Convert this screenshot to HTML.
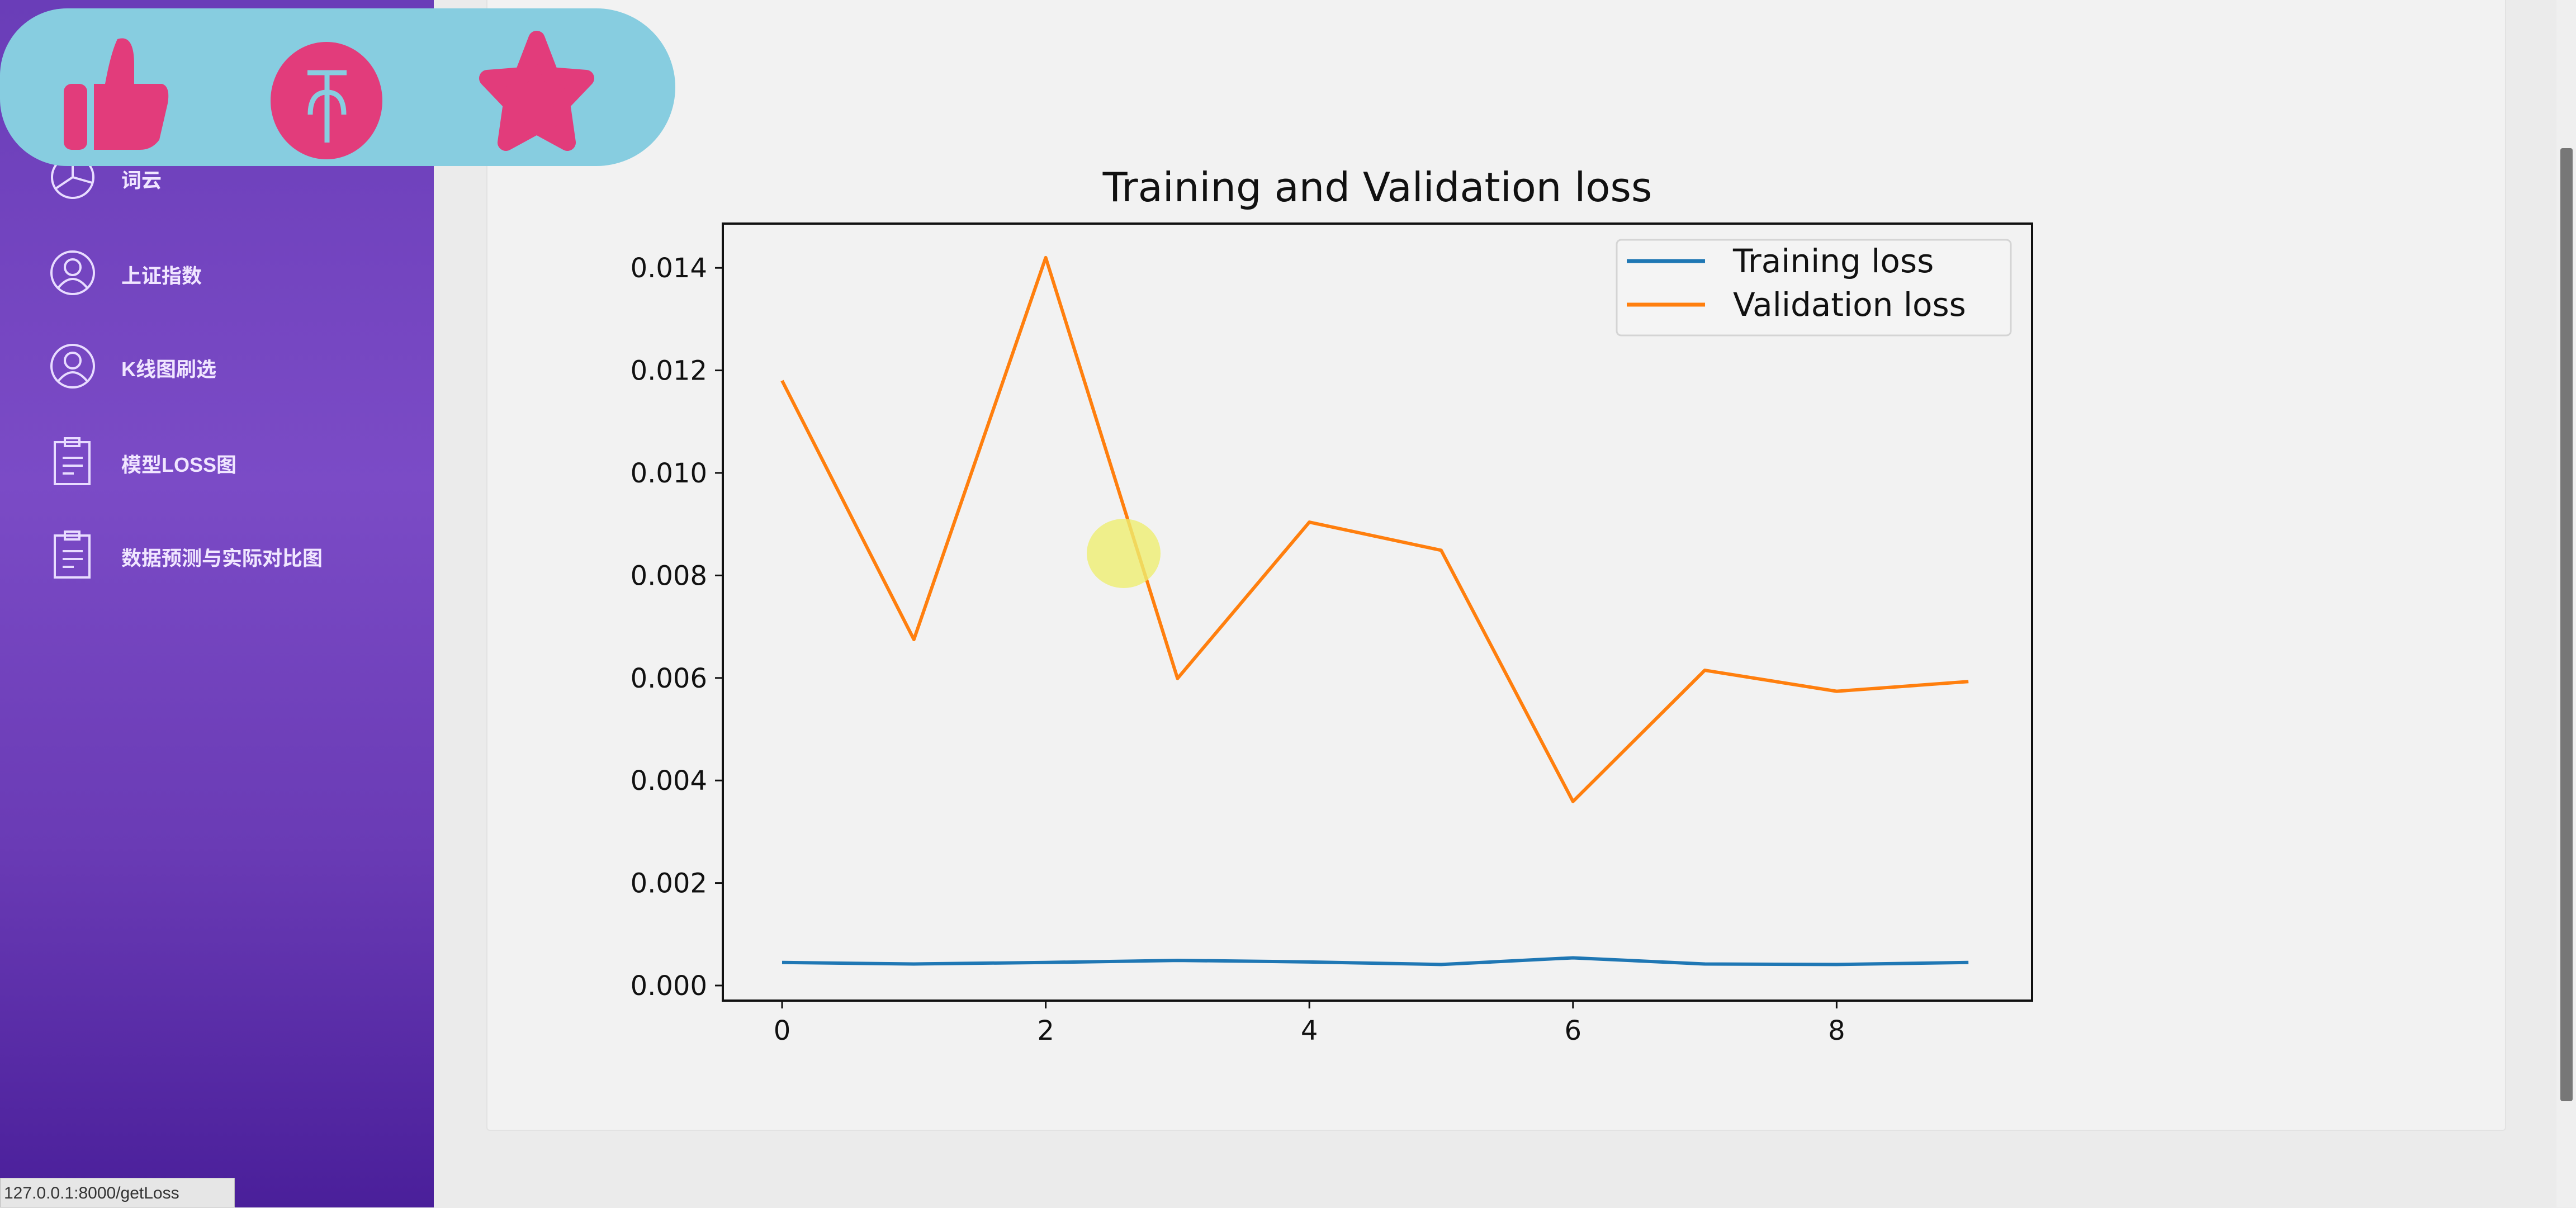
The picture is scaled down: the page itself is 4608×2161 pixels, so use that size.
<!DOCTYPE html>
<html><head><meta charset="utf-8">
<style>
html,body{margin:0;padding:0;width:4608px;height:2160px;overflow:hidden;background:#ebebeb;font-family:"Liberation Sans","Noto Sans CJK SC",sans-serif;}
#sidebar{position:absolute;left:0;top:0;width:776px;height:2160px;background:linear-gradient(180deg,#6a3db8 0%,#7b4bc6 40%,#6a3bb5 70%,#4a1f9a 100%);}
.item{position:absolute;left:90px;height:90px;color:#f0e6ff;font-size:36px;font-weight:bold;}
.item svg{position:absolute;left:0;top:0;}
.item span{position:absolute;left:127px;top:22px;white-space:nowrap;}
#card{position:absolute;left:870px;top:-10px;width:3609px;height:2029px;background:#f2f2f2;border:2px solid #e2e2e2;border-radius:6px;}
#scroll{position:absolute;left:4573px;top:0;width:35px;height:2160px;background:#efefef;}
#thumb{position:absolute;left:4580px;top:265px;width:22px;height:1705px;background:#777;border-radius:4px;}
#pill{position:absolute;left:0;top:15px;width:1208px;height:282px;background:#87cde0;border-radius:120px 141px 141px 120px;}
#status{position:absolute;left:0;top:2107px;width:420px;height:53px;background:#e6e6e6;border:1px solid #bbb;font-size:30px;color:#333;line-height:53px;padding-left:6px;box-sizing:border-box;}
</style></head><body>
<div id="sidebar">
  <div class="item" style="top:272px"><svg width="90" height="90"><circle cx="40" cy="45" r="37" fill="none" stroke="#e8dcff" stroke-width="4"/><path d="M40 45 L40 8 M40 45 L10 65 M40 45 L75 55" stroke="#e8dcff" stroke-width="4" fill="none"/></svg><span>词云</span></div>
  <div class="item" style="top:443px"><svg width="90" height="90"><circle cx="40" cy="45" r="38" fill="none" stroke="#e8dcff" stroke-width="4"/><circle cx="40" cy="35" r="14" fill="none" stroke="#e8dcff" stroke-width="4"/><path d="M14 72 Q40 40 66 72" fill="none" stroke="#e8dcff" stroke-width="4"/></svg><span>上证指数</span></div>
  <div class="item" style="top:610px"><svg width="90" height="90"><circle cx="40" cy="45" r="38" fill="none" stroke="#e8dcff" stroke-width="4"/><circle cx="40" cy="35" r="14" fill="none" stroke="#e8dcff" stroke-width="4"/><path d="M14 72 Q40 40 66 72" fill="none" stroke="#e8dcff" stroke-width="4"/></svg><span>K线图刷选</span></div>
  <div class="item" style="top:781px"><svg width="90" height="90"><rect x="8" y="10" width="62" height="75" fill="none" stroke="#e8dcff" stroke-width="4"/><rect x="26" y="3" width="26" height="14" fill="none" stroke="#e8dcff" stroke-width="4"/><path d="M22 38h36M22 52h36M22 66h20" stroke="#e8dcff" stroke-width="4"/></svg><span>模型LOSS图</span></div>
  <div class="item" style="top:948px"><svg width="90" height="90"><rect x="8" y="10" width="62" height="75" fill="none" stroke="#e8dcff" stroke-width="4"/><rect x="26" y="3" width="26" height="14" fill="none" stroke="#e8dcff" stroke-width="4"/><path d="M22 38h36M22 52h36M22 66h20" stroke="#e8dcff" stroke-width="4"/></svg><span>数据预测与实际对比图</span></div>
</div>
<div id="card"></div>
<div id="scroll"></div>
<div id="thumb"></div>
<svg id="chart" width="4608" height="2160" style="position:absolute;left:0;top:0"></svg>
<div id="pill">
  <svg width="1208" height="282" style="position:absolute;left:0;top:0">
    <g><rect x="114" y="135" width="42" height="118" rx="14" fill="#e23c7b"/><path d="M168 135 L188 135 Q198 80 210 55 Q240 45 240 100 L240 135 L290 135 Q305 140 300 170 L285 235 Q272 253 250 253 L168 253 Z" fill="#e23c7b"/></g>
    <g><ellipse cx="584" cy="165" rx="100" ry="105" fill="#e23c7b"/><path d="M550 115h70M585 115v125M555 190q0-40 30-40q30 0 30 40" stroke="#87cde0" stroke-width="9" fill="none"/></g>
    <g><path d="M960 55 L985 120 L1048 125 L1005 170 L1015 240 L960 210 L905 240 L915 170 L872 125 L935 120 Z" fill="#e23c7b" stroke="#e23c7b" stroke-width="30" stroke-linejoin="round"/></g>
  </svg>
</div>
<div id="status">127.0.0.1:8000/getLoss</div>
<script>
const epochs=[0,1,2,3,4,5,6,7,8,9];
const trainingLoss=[0.00045,0.00042,0.00045,0.00049,0.00046,0.00041,0.00054,0.00042,0.00041,0.00045];
const validationLoss=[0.0118,0.00675,0.0142,0.00599,0.00904,0.00849,0.00359,0.00615,0.00574,0.00593];
const yTicks=[0,0.002,0.004,0.006,0.008,0.010,0.012,0.014];
const yTickLabels=["0.000","0.002","0.004","0.006","0.008","0.010","0.012","0.014"];
const xTicks=[0,2,4,6,8];
const xTickLabels=["0","2","4","6","8"];
const NS="http://www.w3.org/2000/svg";
const svg=document.getElementById('chart');
const L=1293,R=3635,T=400,B=1790;
const xS=v=>1399+v*235.8;
const yS=v=>1763-v*91700;
function mk(tag,attrs,parent){const e=document.createElementNS(NS,tag);for(const k in attrs)e.setAttribute(k,attrs[k]);(parent||svg).appendChild(e);return e;}
const title=mk('text',{x:(L+R)/2,y:360,'text-anchor':'middle','font-size':72,fill:'#111','font-family':'DejaVu Sans, sans-serif'});


title.textContent='Training and Validation loss';
yTicks.forEach((v,i)=>{
  const t=mk('line',{x1:L-14,x2:L,y1:yS(v),y2:yS(v),stroke:'#111','stroke-width':3});
  
  
  const l=mk('text',{x:L-28,y:yS(v)+17,'text-anchor':'end','font-size':48,fill:'#111','font-family':'DejaVu Sans, sans-serif'});
  
  
  l.textContent=yTickLabels[i];
});
xTicks.forEach((v,i)=>{
  const t=mk('line',{x1:xS(v),x2:xS(v),y1:B,y2:B+14,stroke:'#111','stroke-width':3});
  
  
  const l=mk('text',{x:xS(v),y:B+70,'text-anchor':'middle','font-size':48,fill:'#111','font-family':'DejaVu Sans, sans-serif'});
  
  
  l.textContent=xTickLabels[i];
});
function series(vals,color,name){
  const p=mk('polyline',{points:vals.map((v,i)=>xS(epochs[i])+','+yS(v)).join(' '),fill:'none',stroke:color,'stroke-width':6,'stroke-linejoin':'round'});
  
  
}
series(trainingLoss,'#1f77b4','training-loss-line');
series(validationLoss,'#ff7f0e','validation-loss-line');
const frame=mk('rect',{x:L,y:T,width:R-L,height:B-T,fill:'none',stroke:'#111','stroke-width':4});


const lg=mk('rect',{x:2892,y:429,width:705,height:171,rx:8,fill:'#f4f4f4',stroke:'#d4d4d4','stroke-width':3});


[['Training loss','#1f77b4',467],['Validation loss','#ff7f0e',545]].forEach(([n,c,y])=>{
  const ln=mk('line',{x1:2910,x2:3050,y1:y,y2:y,stroke:c,'stroke-width':7});
  
  
  const tx=mk('text',{x:3100,y:y+20,'font-size':58,fill:'#111','font-family':'DejaVu Sans, sans-serif'});
  
  
  tx.textContent=n;
});
const cur=mk('ellipse',{cx:2010,cy:990,rx:66,ry:62,fill:'#eeee70',opacity:0.8});


</script>
</body></html>
